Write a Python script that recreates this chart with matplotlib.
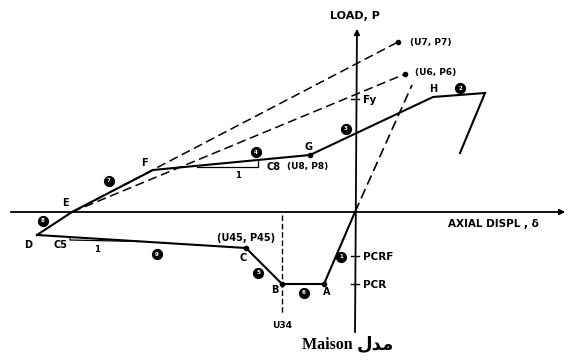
import matplotlib.pyplot as plt

# Maison hysteresis model, coordinates (origin = axis crossing)
# main loop D-E-F-G-H, then unloading
branch_x = [-318, -283, -202, -45, 78, 130, 105]
branch_y = [-23, 0, 42, 57, 115, 119, 59]
# compression side D-C-B-A-O
comp_x = [-318, -109, -73, -31, 0]
comp_y = [-23, -36, -72, -72, 0]

# dashed guide lines
guide7_x = [-283, 43]
guide7_y = [0, 170]
guide6_x = [-283, 50]
guide6_y = [0, 138]
elastic_x = [0, 57]
elastic_y = [0, 127]
u34_x = [-73, -73]
u34_y = [-3, -103]

# circled branch numbers
circ_n = ['1', '2', '3', '4', '5', '6', '7', '8', '9']
circ_x = [-14, 105, -9, -99, -97, -51, -246, -312, -198]
circ_y = [-45, 124, 83, 60, -61, -81, 31, -9, -42]

# point letters
pt_names = ['D', 'E', 'F', 'G', 'H', 'C', 'B', 'A']
pt_x = [-327, -290, -211, -47, 78, -112, -80, -28]
pt_y = [-33, 9, 49, 65, 123, -46, -78, -80]

# ticks on load axis
ytick_names = ['Fy', 'PCRF', 'PCR']
ytick_vals = [113, -44, -72]

fig = plt.figure(figsize=(5.71, 3.61), dpi=100)
ax = fig.add_axes([0, 0, 1, 1])
ax.set_xlim(-355, 216)
ax.set_ylim(-149, 212)
ax.axis('off')

k = 'black'
lab = dict(fontfamily='DejaVu Sans', fontweight='bold', color=k)

# axes with arrows
ax.annotate('', xy=(213, 0), xytext=(-347, 0),
            arrowprops=dict(arrowstyle='-|>', color=k, lw=1.3, mutation_scale=8))
ax.annotate('', xy=(2, 186), xytext=(0, -123),
            arrowprops=dict(arrowstyle='-|>', color=k, lw=1.3, mutation_scale=8))
ax.text(0, 191, 'LOAD, P', ha='center', va='bottom', fontsize=8, **lab)
ax.text(93, -7, 'AXIAL DISPL , δ', ha='left', va='top', fontsize=7.5, **lab)

# model lines
ax.plot(branch_x, branch_y, color=k, lw=1.5, solid_joinstyle='miter')
ax.plot(comp_x, comp_y, color=k, lw=1.5, solid_joinstyle='miter')
ax.plot(guide7_x, guide7_y, color=k, lw=1.1, dashes=(6, 3))
ax.plot(guide6_x, guide6_y, color=k, lw=1.1, dashes=(6, 3))
ax.plot(elastic_x, elastic_y, color=k, lw=1.2, dashes=(6, 3))
ax.plot(u34_x, u34_y, color=k, lw=1.0, dashes=(4, 2))
ax.plot([guide7_x[1], guide6_x[1]], [guide7_y[1], guide6_y[1]], 'o', color=k, ms=3)
ax.plot([comp_x[1], comp_x[2], comp_x[3], branch_x[3]],
        [comp_y[1], comp_y[2], comp_y[3], branch_y[3]], 'o', color=k, ms=3)

# slope triangles
ax.plot([-158, -97, -97], [45, 45, 52], color=k, lw=0.9)
ax.plot([-285, -285, -215], [-25, -28, -29.5], color=k, lw=0.9)
ax.text(-89, 45, 'C8', ha='left', va='center', fontsize=7, **lab)
ax.text(-117, 37, '1', ha='center', va='center', fontsize=6, **lab)
ax.text(-295, -33, 'C5', ha='center', va='center', fontsize=7, **lab)
ax.text(-258, -38, '1', ha='center', va='center', fontsize=6, **lab)

# ticks on load axis
for name, v in zip(ytick_names, ytick_vals):
    ax.plot([-4, 4], [v, v], color=k, lw=1.0)
    ax.text(8, v - 1, name, ha='left', va='center', fontsize=7.5, **lab)

# point labels
for name, x, y in zip(pt_names, pt_x, pt_y):
    ax.text(x, y, name, ha='center', va='center', fontsize=7, **lab)

ax.text(55, 170, '(U7, P7)', ha='left', va='center', fontsize=6.5, **lab)
ax.text(60, 139, '(U6, P6)', ha='left', va='center', fontsize=6.5, **lab)
ax.text(-68, 45, '(U8, P8)', ha='left', va='center', fontsize=6.5, **lab)
ax.text(-109, -26, '(U45, P45)', ha='center', va='center', fontsize=7, **lab)
ax.text(-73, -114, 'U34', ha='center', va='center', fontsize=6.5, **lab)

# circled numbers
ax.scatter(circ_x, circ_y, s=50, color=k, zorder=3)
for n, x, y in zip(circ_n, circ_x, circ_y):
    ax.text(x, y, n, ha='center', va='center', fontsize=4, color='white',
            fontweight='bold', zorder=4)

# caption (Persian "مدل" written with presentation forms so it shows joined)
ax.text(2, -133, 'Maison ', ha='right', va='center', fontsize=11.5,
        fontfamily='Liberation Serif', fontweight='bold', color=k)
ax.text(2, -132, '\ufedd\ufeaa\ufee3', ha='left', va='center', fontsize=13,
        fontfamily=['DejaVu Sans'], fontweight='bold', color=k)

fig.savefig('out.png', dpi=100)
